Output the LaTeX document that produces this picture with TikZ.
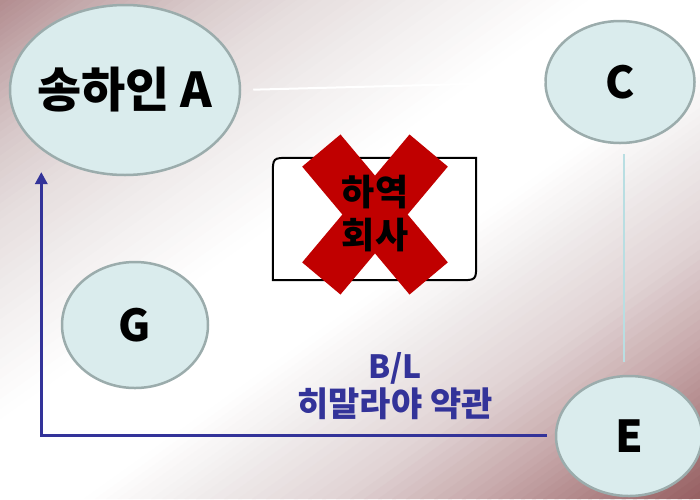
\documentclass[tikz,border=0pt]{standalone}
\usepackage{fontspec}
\setmainfont{Noto Sans CJK KR}
\usetikzlibrary{shapes.geometric,arrows.meta,calc}

\definecolor{ellfill}{RGB}{218,236,237}
\definecolor{elldraw}{RGB}{155,172,172}
\definecolor{navy}{RGB}{51,51,153}
\definecolor{xred}{RGB}{192,0,0}
\definecolor{vlinec}{RGB}{185,222,226}
% background gradient stops (top-left -> bottom-right)
\definecolor{g0}{RGB}{178,140,143}
\definecolor{g1}{RGB}{195,168,170}
\definecolor{g2}{RGB}{215,200,201}
\definecolor{g3}{RGB}{230,222,222}
\definecolor{g4}{RGB}{243,240,240}
\definecolor{g5}{RGB}{255,255,255}
\definecolor{g6}{RGB}{255,255,255}
\definecolor{g7}{RGB}{240,236,236}
\definecolor{g8}{RGB}{225,212,213}
\definecolor{g9}{RGB}{200,170,172}
\definecolor{g10}{RGB}{175,132,134}
\definecolor{g11}{RGB}{150,95,97}

\begin{document}
\begin{tikzpicture}[x=1pt,y=-1pt,
  ell/.style={ellipse, draw=elldraw, line width=2.5pt, fill=ellfill, inner sep=0pt, font=\bfseries\fontsize{44}{48}\selectfont},
  xbar/.style={rectangle, fill=xred, minimum width=167pt, minimum height=50pt, inner sep=0pt},
  wline/.style={draw=white, line width=2pt},
  vconn/.style={draw=vlinec, line width=1.5pt},
  boxline/.style={draw=black, line width=2pt, fill=white},
  navyarrow/.style={draw=navy, line width=3.6pt, -{Triangle[width=12pt,length=12pt]}},
  navytxt/.style={text=navy, inner sep=0pt},
]
\useasboundingbox (0,0) rectangle (700,499);

% background: diagonal gradient built from thin strips
\begin{scope}
\clip (0,0) rectangle (700,499);
\foreach \ta/\tb/\ca/\cb in {0/0.06/g0/g1, 0.06/0.14/g1/g2, 0.14/0.22/g2/g3, 0.22/0.32/g3/g4, 0.32/0.42/g4/g5, 0.42/0.56/g5/g6, 0.56/0.64/g6/g7, 0.64/0.74/g7/g8, 0.74/0.84/g8/g9, 0.84/0.92/g9/g10, 0.92/1.0/g10/g11} {
  \foreach \i in {0,...,9} {
    \pgfmathsetmacro\tlo{\ta+(\tb-\ta)*\i/10}
    \pgfmathsetmacro\thi{\ta+(\tb-\ta)*(\i+1)/10+0.003}
    \pgfmathsetmacro\pc{100-(\i+0.5)*10}
    \fill[\ca!\pc!\cb] ({1400*\tlo+700},-499) -- ({1400*\tlo-700},499) -- ({1400*\thi-700},499) -- ({1400*\thi+700},-499) -- cycle;
  }
}
\end{scope}

% ellipse nodes
\node[ell, minimum width=230pt, minimum height=170pt, font=\bfseries\fontsize{48}{52}\selectfont] (A) at (125,90) {\makebox[0pt]{송하인 A}};
\node[ell, minimum width=149pt, minimum height=122pt] (C) at (620,82) {\makebox[0pt]{C}};
\node[ell, minimum width=146pt, minimum height=126pt] (G) at (135,325) {\makebox[0pt]{G}};
\node[ell, minimum width=146pt, minimum height=120pt] (E) at (629,436) {\makebox[0pt]{E}};

% box placeholder
\node[rectangle, minimum width=203pt, minimum height=122pt, inner sep=0pt] (box) at (374.5,219) {};

% faint connectors
\draw[wline, shorten <=12pt] (A.east) -- (C.west);
\draw[wline] (box.north east) -- (C);
\draw[vconn] ([xshift=4pt,yshift=-10pt]C.south) -- ([xshift=4pt,yshift=13pt]C.south |- E.north);

% box outline
\draw[boxline] (box.south west) -- ([yshift=-17pt]box.north west) .. controls (box.north west) .. ([xshift=17pt]box.north west) -- (box.north east) -- ([yshift=17pt]box.south east) .. controls (box.south east) .. ([xshift=-17pt]box.south east) -- cycle;

% red X
\node[xbar, rotate=-50] (xa) at (375,214.5) {};
\node[xbar, rotate=50] (xb) at (375,214.5) {};
\node[font=\bfseries\fontsize{36}{43}\selectfont, align=center, inner sep=0pt] (boxtxt) at (375,214) {하역\\회사};

% navy arrow
\coordinate (arrEnd) at (547,435.5);
\coordinate (arrCorner) at (41.3,435.5);
\coordinate (arrTip) at (41.3,172);
\draw[navyarrow] (arrEnd) -- (arrCorner) -- (arrTip);

\node[navytxt, font=\bfseries\fontsize{32}{36}\selectfont] (bl1) at (395,368) {B/L};
\node[navytxt, font=\bfseries\fontsize{34}{38}\selectfont] (bl2) at (395,404) {히말라야 약관};
\end{tikzpicture}
\end{document}
